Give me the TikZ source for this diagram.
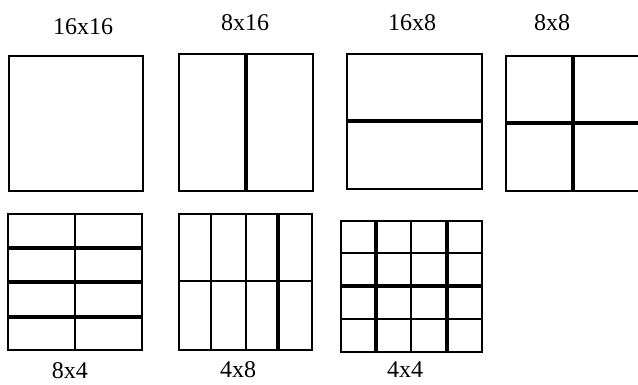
\documentclass[tikz,border=0pt]{standalone}
\usepackage{fontspec}
\setmainfont{Liberation Serif}

\begin{document}
\begin{tikzpicture}[
  x=1pt, y=-1pt,
  cell/.style={line width=1.5pt},
  split/.style={line width=3.5pt},
  lbl/.style={inner sep=0pt, font=\fontsize{24}{28}\selectfont}
]
\useasboundingbox (0,0) rectangle (638,385);

% labels
\node[lbl] (t16x16) at (83,27) {16x16};
\node[lbl] (t8x16) at (245,23) {8x16};
\node[lbl] (t16x8) at (412,23) {16x8};
\node[lbl] (t8x8) at (552,23) {8x8};
\node[lbl] (t8x4) at (70,371) {8x4};
\node[lbl] (t4x8) at (238,370) {4x8};
\node[lbl] (t4x4) at (405,370) {4x4};

% top row
\draw[cell] (9,56) rectangle (143,191);

\draw[cell] (179,54) rectangle (313,191);
\draw[split] (246,54) -- (246,191);

\draw[cell] (347,54) rectangle (482,189);
\draw[split] (347,121) -- (482,121);

\draw[cell] (638,56) -- (506,56) -- (506,191) -- (638,191);
\draw[split] (573,56) -- (573,191);
\draw[split] (506,123) -- (638,123);

% bottom row
\draw[cell] (8,214) rectangle (142,350);
\draw[cell] (75,214) -- (75,350);
\foreach \y in {248,282,317}
  \draw[split] (8,\y) -- (142,\y);

\draw[cell] (179,214) rectangle (312,350);
\foreach \x in {211,246}
  \draw[cell] (\x,214) -- (\x,350);
\draw[cell] (179,281) -- (312,281);
\draw[split] (278,214) -- (278,350);

\draw[cell] (341,221) rectangle (482,352);
\draw[cell] (411,221) -- (411,352);
\foreach \y in {253,319}
  \draw[cell] (341,\y) -- (482,\y);
\draw[split] (341,286) -- (482,286);
\foreach \x in {376,447}
  \draw[split] (\x,221) -- (\x,352);
\end{tikzpicture}
\end{document}
